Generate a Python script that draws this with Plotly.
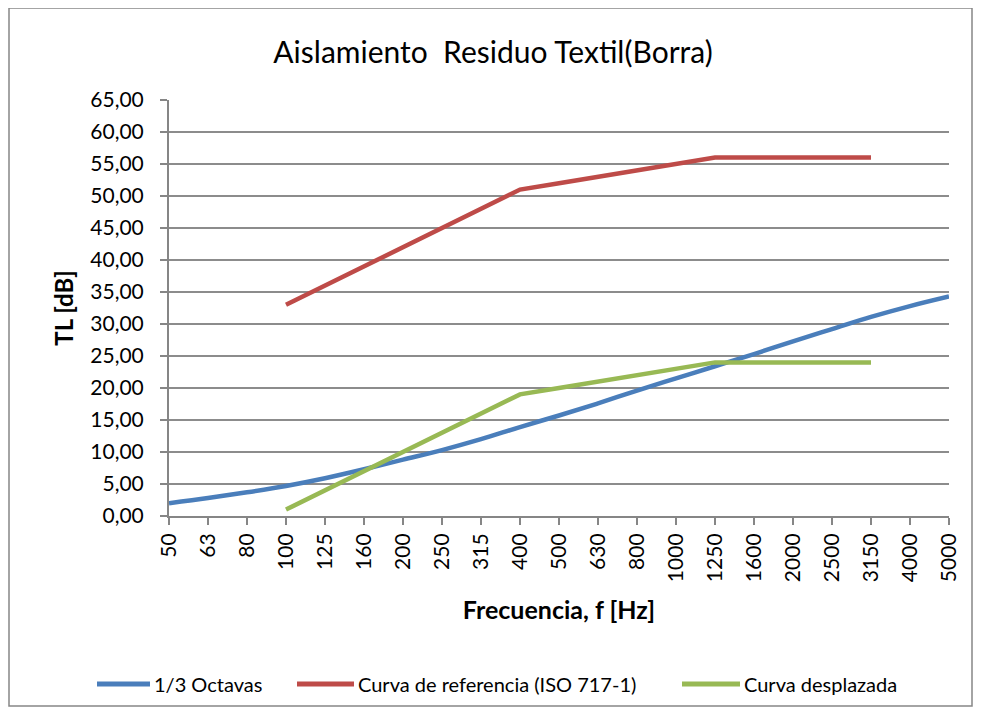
import plotly.graph_objects as go

freqs = ["50", "63", "80", "100", "125", "160", "200", "250", "315", "400", "500",
         "630", "800", "1000", "1250", "1600", "2000", "2500", "3150", "4000", "5000"]
tercios = [2.0, 2.8, 3.7, 4.7, 5.9, 7.3, 8.8, 10.3, 12.0, 13.9, 15.7,
           17.6, 19.6, 21.5, 23.4, 25.3, 27.3, 29.2, 31.1, 32.8, 34.3]
ref_freqs = ["100", "125", "160", "200", "250", "315", "400", "500",
             "630", "800", "1000", "1250", "1600", "2000", "2500", "3150"]
referencia = [33, 36, 39, 42, 45, 48, 51, 52, 53, 54, 55, 56, 56, 56, 56, 56]
desplazada = [1, 4, 7, 10, 13, 16, 19, 20, 21, 22, 23, 24, 24, 24, 24, 24]
series_names = ["1/3 Octavas", "Curva de referencia (ISO 717-1)", "Curva desplazada"]
series_colors = ["#4A7EBB", "#BE4B48", "#98B954"]

FONT = "Lato"
OFF = 8  # page body margin
PX0, PW = 169, 780   # plot area left / width in page px
PY0, PH = 516, 416   # plot area bottom / height in page px


def px(x):
    return (x - PX0) / PW


def py(y):
    return (PY0 - y) / PH


fig = go.Figure()
fig.add_trace(go.Scatter(x=freqs, y=tercios, mode="lines", name=series_names[0],
                         line=dict(color=series_colors[0], width=4.5, shape="spline")))
fig.add_trace(go.Scatter(x=ref_freqs, y=referencia, mode="lines", name=series_names[1],
                         line=dict(color=series_colors[1], width=4.5)))
fig.add_trace(go.Scatter(x=ref_freqs, y=desplazada, mode="lines", name=series_names[2],
                         line=dict(color=series_colors[2], width=4.5)))

# legend drawn manually (line sample + label)
leg_y = py(684)
leg_line_x = [(97, 150), (297, 354), (682, 740)]
shapes = [dict(type="rect", xref="paper", yref="paper",
               x0=px(9), x1=px(972), y0=py(706), y1=py(8),
               line=dict(color="#868686", width=1.5), fillcolor="rgba(0,0,0,0)", layer="below")]
annotations = []
for (a, b), name, col in zip(leg_line_x, series_names, series_colors):
    shapes.append(dict(type="line", xref="paper", yref="paper", x0=px(a), x1=px(b),
                       y0=leg_y, y1=leg_y, line=dict(color=col, width=5)))
    annotations.append(dict(text=name, xref="paper", yref="paper", x=px(b + 2), y=leg_y,
                            xanchor="left", yanchor="middle", showarrow=False,
                            font=dict(size=20, family=FONT, color="black")))

fig.update_layout(
    width=982, height=716,
    margin=dict(l=PX0 - OFF, r=982 - (PX0 + PW - OFF), t=PY0 - PH - OFF,
                b=716 - (PY0 - OFF), pad=0),
    paper_bgcolor="white", plot_bgcolor="white",
    separators=",.",
    showlegend=False,
    font=dict(family=FONT, color="black", size=21),
    title=dict(text="Aislamiento  Residuo Textil(Borra)", xref="paper", x=px(493),
               xanchor="center", y=1 - (52 - OFF) / 716, yanchor="middle",
               font=dict(size=30, family=FONT)),
    xaxis=dict(type="category", categoryorder="array", categoryarray=freqs,
               range=[0, len(freqs) - 1], tickangle=-90, showgrid=False,
               showline=True, linecolor="#868686", linewidth=2,
               ticks="outside", ticklen=7, tickcolor="#868686", tickwidth=2,
               tickfont=dict(size=21), ticklabelstandoff=0,
               title=dict(text="<b>Frecuencia, f [Hz]</b>", font=dict(size=25), standoff=20)),
    yaxis=dict(range=[0, 65], dtick=5, tickformat=".2f", showgrid=True,
               gridcolor="#8C8C8C", gridwidth=1.5,
               showline=True, linecolor="#868686", linewidth=2,
               ticks="outside", ticklen=7, tickcolor="#868686", tickwidth=2,
               tickfont=dict(size=21), zeroline=False, ticklabelstandoff=12,
               title=dict(text="<b>TL [dB]</b>", font=dict(size=24), standoff=10)),
    shapes=shapes,
    annotations=annotations,
)

fig.write_html("out.html")
